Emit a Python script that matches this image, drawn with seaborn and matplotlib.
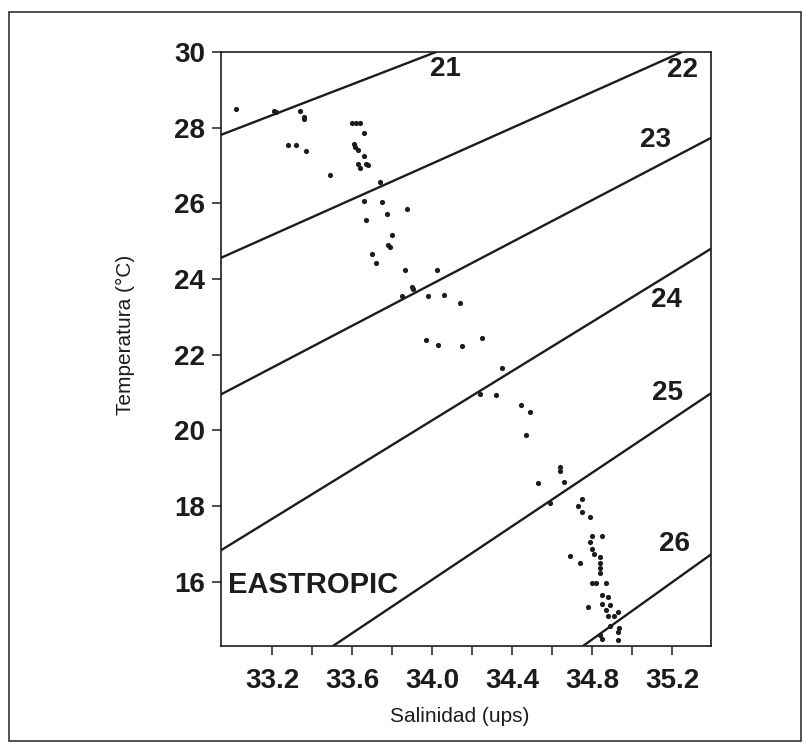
import matplotlib
matplotlib.use("Agg")
import matplotlib.pyplot as plt
import numpy as np
import pandas as pd
import seaborn as sns
from matplotlib.patches import Rectangle
from matplotlib.ticker import FixedLocator

# ---- data (salinity in ups, temperature in degC) ----
salinity = [33.02, 33.21, 33.22, 33.34, 33.36, 33.36, 33.28, 33.32, 33.37, 33.49,
            33.60, 33.62, 33.64, 33.66, 33.61, 33.615, 33.63, 33.66, 33.63, 33.64,
            33.67, 33.68, 33.74, 33.66, 33.75, 33.67, 33.775, 33.875, 33.80, 33.78,
            33.79, 33.70, 33.72, 33.865, 34.025, 33.90, 33.905, 33.85, 33.98, 34.06,
            34.14, 33.97, 34.03, 34.15, 34.25, 34.35, 34.24, 34.32, 34.445, 34.49,
            34.47, 34.64, 34.64, 34.53, 34.66, 34.59, 34.75, 34.73, 34.75, 34.79,
            34.80, 34.79, 34.80, 34.81, 34.85, 34.69, 34.74, 34.84, 34.84, 34.84,
            34.84, 34.80, 34.82, 34.87, 34.85, 34.88, 34.78, 34.85, 34.89, 34.87,
            34.88, 34.91, 34.93, 34.89, 34.935, 34.93, 34.84, 34.85, 34.93]
temperature = [28.50, 28.45, 28.41, 28.45, 28.29, 28.23, 27.53, 27.53, 27.38, 26.76,
               28.13, 28.13, 28.13, 27.85, 27.57, 27.48, 27.41, 27.26, 27.03, 26.94,
               27.05, 27.02, 26.56, 26.06, 26.04, 25.56, 25.72, 25.85, 25.15, 24.91,
               24.85, 24.65, 24.41, 24.23, 24.23, 23.80, 23.73, 23.54, 23.55, 23.58,
               23.37, 22.39, 22.26, 22.22, 22.45, 21.65, 20.96, 20.93, 20.66, 20.48,
               19.89, 19.03, 18.92, 18.60, 18.64, 18.08, 18.19, 18.01, 17.83, 17.70,
               17.20, 17.04, 16.86, 16.73, 17.21, 16.68, 16.50, 16.64, 16.50, 16.37,
               16.23, 15.96, 15.96, 15.97, 15.64, 15.60, 15.32, 15.42, 15.39, 15.24,
               15.10, 15.10, 15.19, 14.83, 14.77, 14.67, 14.60, 14.49, 14.47]

# isopycnal (sigma-t) lines: end points
sigma_levels = [21, 22, 23, 24, 25, 26]
iso_s_start = [32.945, 32.945, 32.945, 32.945, 33.505, 34.755]
iso_t_start = [27.81, 24.56, 20.95, 16.83, 14.30, 14.30]
iso_s_end = [34.02, 35.25, 35.395, 35.395, 35.395, 35.395]
iso_t_end = [30.00, 30.00, 27.73, 24.80, 20.98, 16.72]

# label positions of the isopycnals
label_s = [34.065, 35.255, 35.12, 35.17, 35.18, 35.215]
label_t = [29.55, 29.53, 27.67, 23.45, 20.98, 16.99]

region_label = "EASTROPIC"
x_major = [33.2, 33.6, 34.0, 34.4, 34.8, 35.2]
x_major_labels = ["33.2", "33.6", "34.0", "34.4", "34.8", "35.2"]
x_minor = [33.4, 33.8, 34.2, 34.6, 35.0, 35.4]
y_ticks = [16, 18, 20, 22, 24, 26, 28, 30]
x_limits = (32.945, 35.395)
y_limits = (14.3, 30.0)

# ---- figure ----
sns.set_style("white")
plt.rcParams["font.family"] = ["Liberation Sans", "DejaVu Sans"]

W, H = 806, 744
fig = plt.figure(figsize=(W / 100, H / 100), dpi=100)
fig.patch.set_facecolor("white")
ax = fig.add_axes([221 / W, (H - 646) / H, 490 / W, 594 / H])

ink = "#1c1c1c"

iso_df = pd.DataFrame({
    "S": iso_s_start + iso_s_end,
    "T": iso_t_start + iso_t_end,
    "sigma": sigma_levels + sigma_levels,
})
sns.lineplot(data=iso_df, x="S", y="T", units="sigma", estimator=None, sort=False,
             color=ink, linewidth=1.7, legend=False, ax=ax)

pts = pd.DataFrame({"S": salinity, "T": temperature})
sns.scatterplot(data=pts, x="S", y="T", color=ink, s=14, linewidth=0, ax=ax, zorder=3)

for lev, s, t in zip(sigma_levels, label_s, label_t):
    ax.text(s, t, str(lev), ha="center", va="center", fontsize=20,
            fontweight="bold", color=ink)
ax.text(32.98, 15.9, region_label, ha="left", va="center", fontsize=21,
        fontweight="bold", color=ink)

ax.set_xlim(*x_limits)
ax.set_ylim(*y_limits)
ax.xaxis.set_major_locator(FixedLocator(x_major))
ax.set_xticklabels(x_major_labels)
ax.xaxis.set_minor_locator(FixedLocator(x_minor))
ax.set_yticks(y_ticks)
ax.set_yticklabels([str(v) for v in y_ticks])

ax.tick_params(axis="x", which="both", direction="out", length=6.5, width=1.1,
               color=ink, pad=9, labelsize=20, labelcolor=ink, bottom=True)
ax.tick_params(axis="y", which="both", direction="out", length=6.2, width=1.1,
               color=ink, pad=5.3, labelsize=20, labelcolor=ink, left=True)
for lab in ax.get_xticklabels() + ax.get_yticklabels():
    lab.set_fontweight("bold")

for sp in ax.spines.values():
    sp.set_visible(True)
    sp.set_linewidth(1.2)
    sp.set_color(ink)

ax.set_xlabel("")
ax.set_ylabel("")
fig.text(460 / W, 1 - 716 / H, "Salinidad (ups)", ha="center", va="center",
         fontsize=15, color=ink)
fig.text(125 / W, 1 - 335 / H, "Temperatura (°C)", ha="center", va="center",
         rotation=90, fontsize=15, color=ink)

# outer frame of the figure
fig.patches.append(Rectangle((9 / W, 3 / H), (801 - 9) / W, (741 - 12) / H,
                             transform=fig.transFigure, fill=False,
                             edgecolor="#333333", linewidth=1.2))

fig.savefig("out.png", dpi=100)
